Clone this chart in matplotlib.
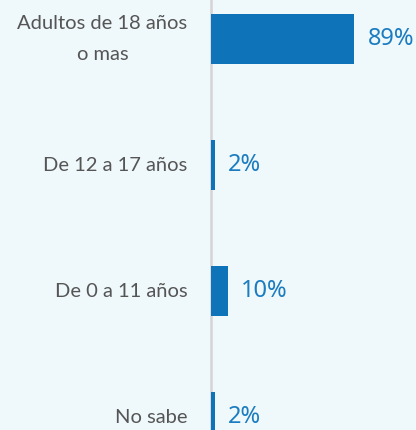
import matplotlib
matplotlib.use("Agg")
import matplotlib.pyplot as plt

categories = ["Adultos de 18 años\no mas", "De 12 a 17 años", "De 0 a 11 años", "No sabe"]
values = [89, 2, 10, 2]
value_labels = ["89%", "2%", "10%", "2%"]

bg = "#eff8fb"
bar_color = "#0e73b9"
val_color = "#1b7cc0"
lab_color = "#555555"

fig = plt.figure(figsize=(4.16, 4.30), dpi=100, facecolor=bg)
ax = fig.add_axes([0, 0, 1, 1], facecolor=bg)

pos = list(range(len(categories)))
ax.barh(pos, values, height=0.397, color=bar_color, zorder=3)

ax.set_ylim(3.103, -0.31)
ax.set_xlim(-131.6, 127.3)
ax.axvline(0, color="#d4d4d4", lw=1.8, zorder=2)

for p, v, c, vl in zip(pos, values, categories, value_labels):
    ax.annotate(c, xy=(0, p), xytext=(-24, 0), textcoords="offset pixels",
                ha="right", va="center", multialignment="center",
                fontsize=14.5, color=lab_color, family="Lato", linespacing=1.95)
    ax.annotate(vl, xy=(v, p), xytext=(13, 0), textcoords="offset pixels",
                ha="left", va="center", fontsize=17, color=val_color,
                family="Noto Sans")

ax.axis("off")
fig.savefig("out.png", dpi=100, facecolor=bg)
